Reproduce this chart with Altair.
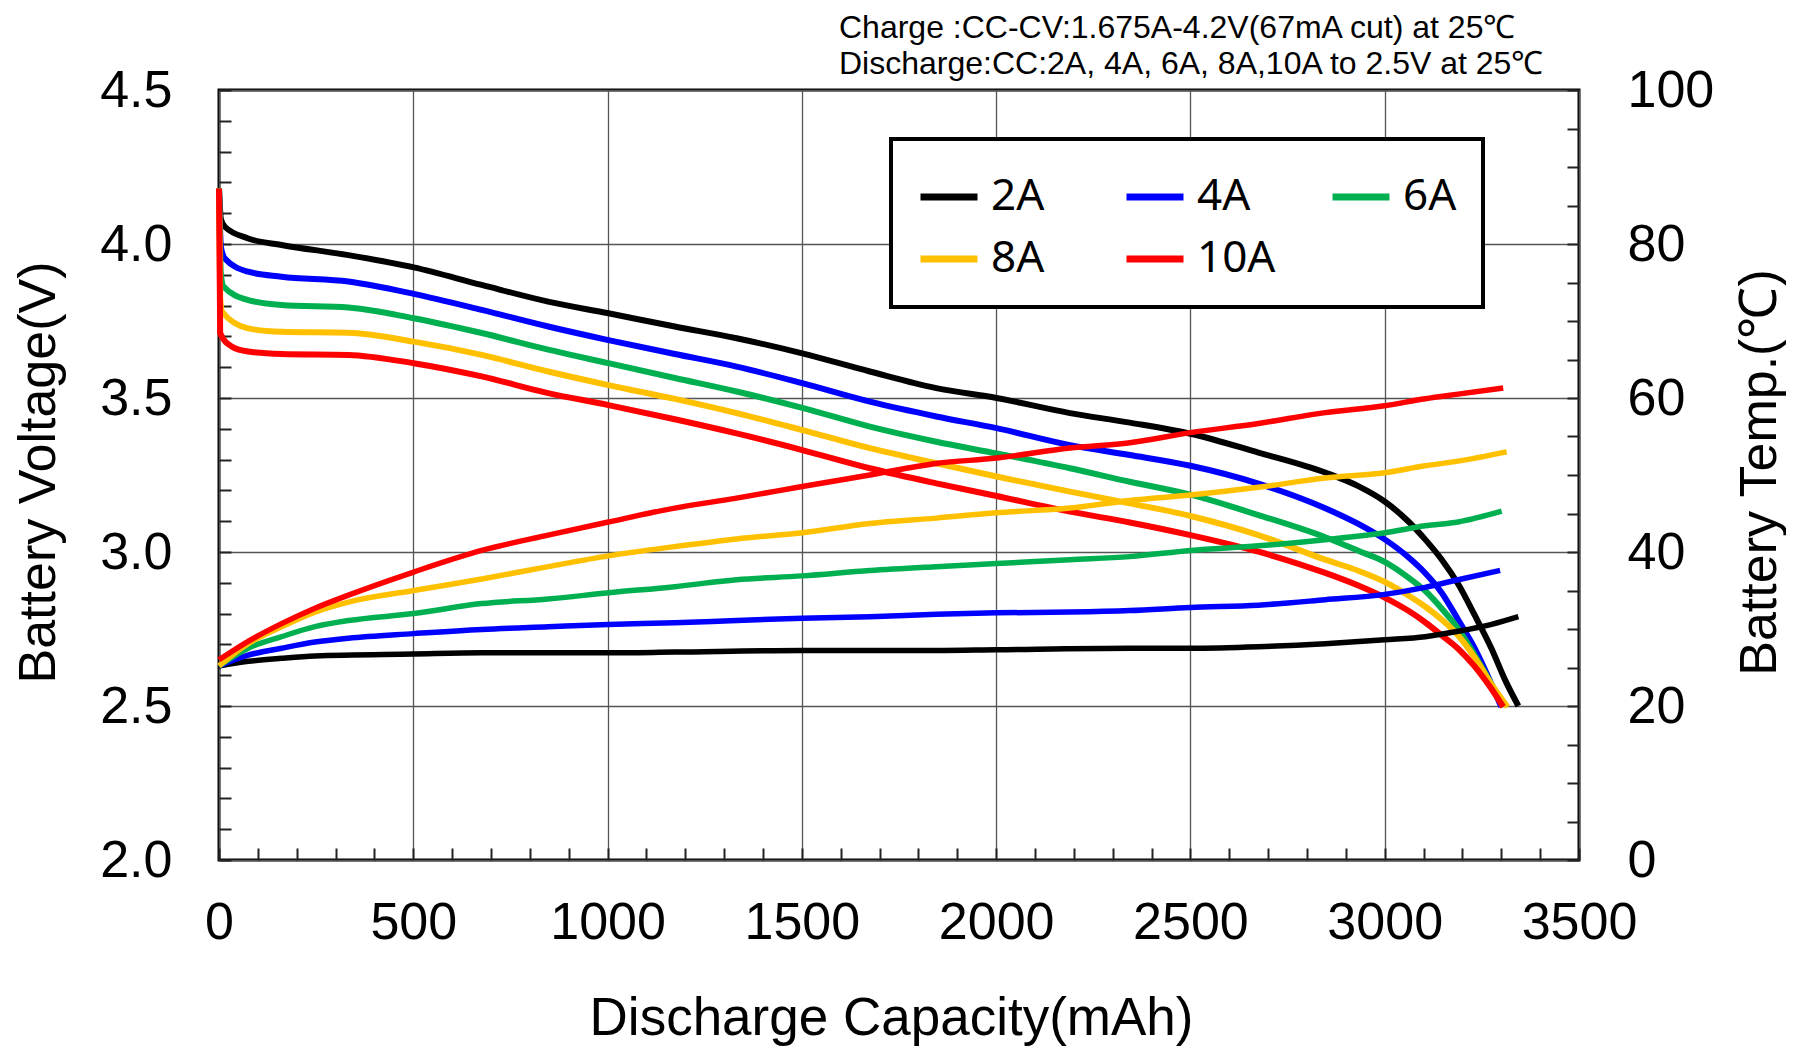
import altair as alt
import pandas as pd

# ---------------- data ----------------
series_names = ["2A", "4A", "6A", "8A", "10A"]
series_colors = ["#000000", "#0000FF", "#00B050", "#FFC000", "#FF0000"]

# Voltage curves (mAh, V)
v2_cap = [0, 5, 15, 75, 161, 333, 501, 676, 847, 1002, 1173, 1332, 1501, 1675, 1846, 2001, 2190, 2344,
          2500, 2675, 2847, 2932, 3000, 3061, 3104, 3147, 3189, 3232, 3275, 3310, 3344]
v2_val = [4.18, 4.08, 4.056, 4.018, 3.997, 3.964, 3.924, 3.867, 3.813, 3.775, 3.732, 3.694, 3.645, 3.586,
          3.532, 3.500, 3.451, 3.420, 3.384, 3.323, 3.258, 3.214, 3.164, 3.099, 3.041, 2.975, 2.896,
          2.794, 2.686, 2.584, 2.500]

v4_cap = [0, 5, 15, 75, 161, 333, 501, 676, 847, 1002, 1173, 1332, 1501, 1675, 1846, 2001, 2190, 2344,
          2500, 2675, 2847, 2932, 3000, 3061, 3104, 3147, 3189, 3232, 3275, 3300]
v4_val = [4.18, 3.99, 3.953, 3.910, 3.894, 3.878, 3.838, 3.786, 3.732, 3.688, 3.643, 3.602, 3.548, 3.488,
          3.440, 3.402, 3.347, 3.315, 3.280, 3.222, 3.142, 3.091, 3.041, 2.983, 2.932, 2.867, 2.780,
          2.686, 2.570, 2.497]

v6_cap = [0, 5, 12, 75, 161, 333, 501, 676, 847, 1002, 1173, 1332, 1501, 1675, 1846, 2001, 2190, 2344,
          2500, 2675, 2847, 2932, 3000, 3061, 3104, 3147, 3189, 3232, 3275, 3305]
v6_val = [4.18, 3.90, 3.861, 3.818, 3.802, 3.794, 3.759, 3.711, 3.657, 3.613, 3.565, 3.521, 3.468, 3.407,
          3.358, 3.320, 3.272, 3.228, 3.186, 3.120, 3.048, 3.004, 2.968, 2.917, 2.874, 2.816, 2.751,
          2.664, 2.570, 2.497]

v8_cap = [0, 3, 8, 75, 161, 333, 501, 676, 847, 1002, 1173, 1332, 1501, 1675, 1846, 2001, 2190, 2344,
          2500, 2675, 2847, 2932, 3000, 3061, 3104, 3147, 3189, 3232, 3275, 3316]
v8_val = [4.18, 3.83, 3.780, 3.726, 3.715, 3.712, 3.683, 3.640, 3.586, 3.542, 3.497, 3.451, 3.396, 3.337,
          3.288, 3.245, 3.196, 3.158, 3.117, 3.055, 2.975, 2.939, 2.903, 2.859, 2.823, 2.780, 2.729,
          2.657, 2.570, 2.497]

v10_cap = [0, 3, 33, 75, 161, 333, 501, 676, 847, 1002, 1173, 1332, 1501, 1675, 1846, 2001, 2190, 2344,
           2500, 2675, 2847, 2932, 3000, 3061, 3104, 3147, 3189, 3232, 3275, 3305]
v10_val = [4.18, 3.710, 3.667, 3.651, 3.643, 3.640, 3.613, 3.570, 3.516, 3.477, 3.431, 3.385, 3.331, 3.272,
           3.223, 3.182, 3.131, 3.096, 3.055, 3.001, 2.932, 2.891, 2.852, 2.809, 2.772, 2.729, 2.686,
           2.628, 2.555, 2.497]

# Temperature curves (mAh, degC)
t2_cap = [0, 75, 161, 247, 501, 676, 1002, 1173, 1501, 1846, 2001, 2344, 2500, 2675, 2847, 3000, 3104,
          3189, 3275, 3344]
t2_val = [25.2, 25.8, 26.2, 26.5, 26.75, 26.9, 26.9, 27.0, 27.2, 27.2, 27.3, 27.5, 27.5, 27.7, 28.1,
          28.6, 29.0, 29.7, 30.6, 31.6]

t_cap = [0, 75, 161, 247, 333, 501, 676, 847, 1002, 1173, 1332, 1501, 1675, 1846, 2001, 2190, 2344,
         2500, 2675, 2847, 3000, 3104, 3189]
t4_cap = t_cap + [3297]
t4_val = [25.2, 26.6, 27.5, 28.3, 28.8, 29.4, 29.95, 30.3, 30.6, 30.8, 31.1, 31.4, 31.6, 31.9, 32.1,
          32.2, 32.4, 32.8, 33.1, 33.8, 34.5, 35.4, 36.4, 37.6]
t6_cap = t_cap + [3301]
t6_val = [25.2, 27.5, 29.0, 30.3, 31.1, 32.0, 33.3, 33.9, 34.7, 35.5, 36.4, 36.9, 37.6, 38.1, 38.5,
          39.0, 39.4, 40.2, 40.8, 41.6, 42.5, 43.4, 43.9, 45.3]
t8_cap = t_cap + [3314]
t8_val = [25.2, 28.1, 30.3, 32.2, 33.5, 35.0, 36.5, 38.1, 39.5, 40.7, 41.7, 42.5, 43.7, 44.4, 45.1,
          45.7, 46.7, 47.4, 48.4, 49.6, 50.3, 51.2, 51.8, 53.0]
t10_cap = t_cap + [3305]
t10_val = [26.0, 28.4, 30.7, 32.7, 34.4, 37.4, 40.2, 42.2, 43.9, 45.7, 47.0, 48.5, 50.0, 51.5, 52.2,
           53.5, 54.2, 55.5, 56.7, 58.1, 59.0, 59.9, 60.5, 61.3]

# Axis tick values
x_ticks = [i * 100 for i in range(36)]
v_ticks = [round(2.0 + 0.1 * i, 1) for i in range(26)]
t_ticks = [i * 5 for i in range(21)]

note_lines = ["Charge :CC-CV:1.675A-4.2V(67mA cut) at 25\u2103",
              "Discharge:CC:2A, 4A, 6A, 8A,10A to 2.5V at 25\u2103"]

# ---------------- tables ----------------
volt_sets = [(v2_cap, v2_val), (v4_cap, v4_val), (v6_cap, v6_val), (v8_cap, v8_val), (v10_cap, v10_val)]
temp_sets = [(t2_cap, t2_val), (t4_cap, t4_val), (t6_cap, t6_val), (t8_cap, t8_val), (t10_cap, t10_val)]

rows_v = []
for name, (xs, ys) in zip(series_names, volt_sets):
    for xv, yv in zip(xs, ys):
        rows_v.append({"series": name, "cap": xv, "volt": yv})
df_v = pd.DataFrame(rows_v)

rows_t = []
for name, (xs, ys) in zip(series_names, temp_sets):
    for xv, yv in zip(xs, ys):
        rows_t.append({"series": name, "cap": xv, "temp": yv})
df_t = pd.DataFrame(rows_t)

FONT = "Liberation Sans"
INWARD = {"expr": "-12"}

x_scale = alt.Scale(domain=[0, 3500], nice=False, zero=False)
color_scale = alt.Scale(domain=series_names, range=series_colors)

legend = alt.Legend(
    orient="none", legendX=672, legendY=49, direction="horizontal", columns=3,
    gridAlign="all", columnPadding=42, rowPadding=8, symbolType="stroke",
    symbolSize=3249, symbolStrokeWidth=7, labelFontSize=44, labelFont="Noto Sans",
    labelOffset=10, labelColor="black", padding=26, strokeColor="black",
    fillColor="white", title=None, symbolOpacity=1,
)

x_axis = alt.Axis(
    values=x_ticks, labelExpr="datum.value % 500 === 0 ? format(datum.value, 'd') : ''",
    tickSize=INWARD, tickColor="#222222", tickWidth=2, domain=False,
    grid=True, gridColor="#555555", gridWidth=1.3,
    gridOpacity={"condition": {"test": "datum.value % 500 === 0", "value": 1}, "value": 0},
    labelFont=FONT, labelFontSize=52, labelColor="black", labelPadding=74,
    labelBaseline="middle", labelFlush=False, labelOverlap=False, labelBound=False,
    title="Discharge Capacity(mAh)", titleFont=FONT, titleFontSize=53, titleFontWeight="normal",
    titleColor="black", titleX=672, titleY=158, titleBaseline="middle", titleAlign="center",
)

v_axis = alt.Axis(
    values=v_ticks, labelExpr="datum.value % 0.5 === 0 ? format(datum.value, '.1f') : ''",
    tickSize=INWARD, tickColor="#222222", tickWidth=2, domain=False,
    grid=True, gridColor="#555555", gridWidth=1.3,
    gridOpacity={"condition": {"test": "datum.value % 0.5 === 0", "value": 1}, "value": 0},
    labelFont=FONT, labelFontSize=52, labelColor="black", labelPadding=59,
    labelFlush=False, labelOverlap=False, labelBound=False,
    title="Battery Voltage(V)", titleFont=FONT, titleFontSize=52, titleFontWeight="normal",
    titleColor="black", titleX=-181, titleY=382, titleBaseline="middle", titleAlign="center",
    titleAngle=270,
)

t_axis = alt.Axis(
    orient="right", values=t_ticks,
    labelExpr="datum.value % 20 === 0 ? format(datum.value, 'd') : ''",
    tickSize=INWARD, tickColor="#222222", tickWidth=2, domain=False, grid=False,
    labelFont=FONT, labelFontSize=52, labelColor="black", labelPadding=60,
    labelFlush=False, labelOverlap=False, labelBound=False,
    title="Battery Temp.(\u2103)", titleFont=FONT, titleFontSize=52, titleFontWeight="normal",
    titleColor="black", titleX=180, titleY=382, titleBaseline="middle", titleAlign="center",
    titleAngle=270,
)

volt = alt.Chart(df_v).mark_line(strokeWidth=6, strokeJoin="round", interpolate="monotone").encode(
    x=alt.X("cap:Q", scale=x_scale, axis=x_axis),
    y=alt.Y("volt:Q", scale=alt.Scale(domain=[2.0, 4.5], nice=False, zero=False), axis=v_axis),
    color=alt.Color("series:N", scale=color_scale, legend=legend, sort=series_names),
    order=alt.Order("cap:Q"),
)

temp = alt.Chart(df_t).mark_line(strokeWidth=5.5, strokeJoin="round", interpolate="monotone").encode(
    x=alt.X("cap:Q", scale=x_scale, axis=x_axis),
    y=alt.Y("temp:Q", scale=alt.Scale(domain=[0, 100], nice=False, zero=False), axis=t_axis),
    color=alt.Color("series:N", scale=color_scale, legend=legend, sort=series_names),
    order=alt.Order("cap:Q"),
)

chart = alt.layer(volt, temp).resolve_scale(y="independent").properties(
    width=1360, height=770,
    autosize=alt.AutoSizeParams(type="none"),
    padding={"left": 211, "top": 82, "right": 207, "bottom": 187},
    title=alt.TitleParams(
        text=note_lines, anchor="start", frame="group", align="left", dx=620, dy=49,
        offset=0, baseline="bottom", font=FONT, fontSize=32, fontWeight="normal",
        lineHeight=36, color="black",
    ),
).configure_view(
    stroke="black", strokeWidth=3
).configure_legend(
    strokeWidth=4
)

chart.save("out.html", embed_options={"renderer": "svg", "actions": False})
